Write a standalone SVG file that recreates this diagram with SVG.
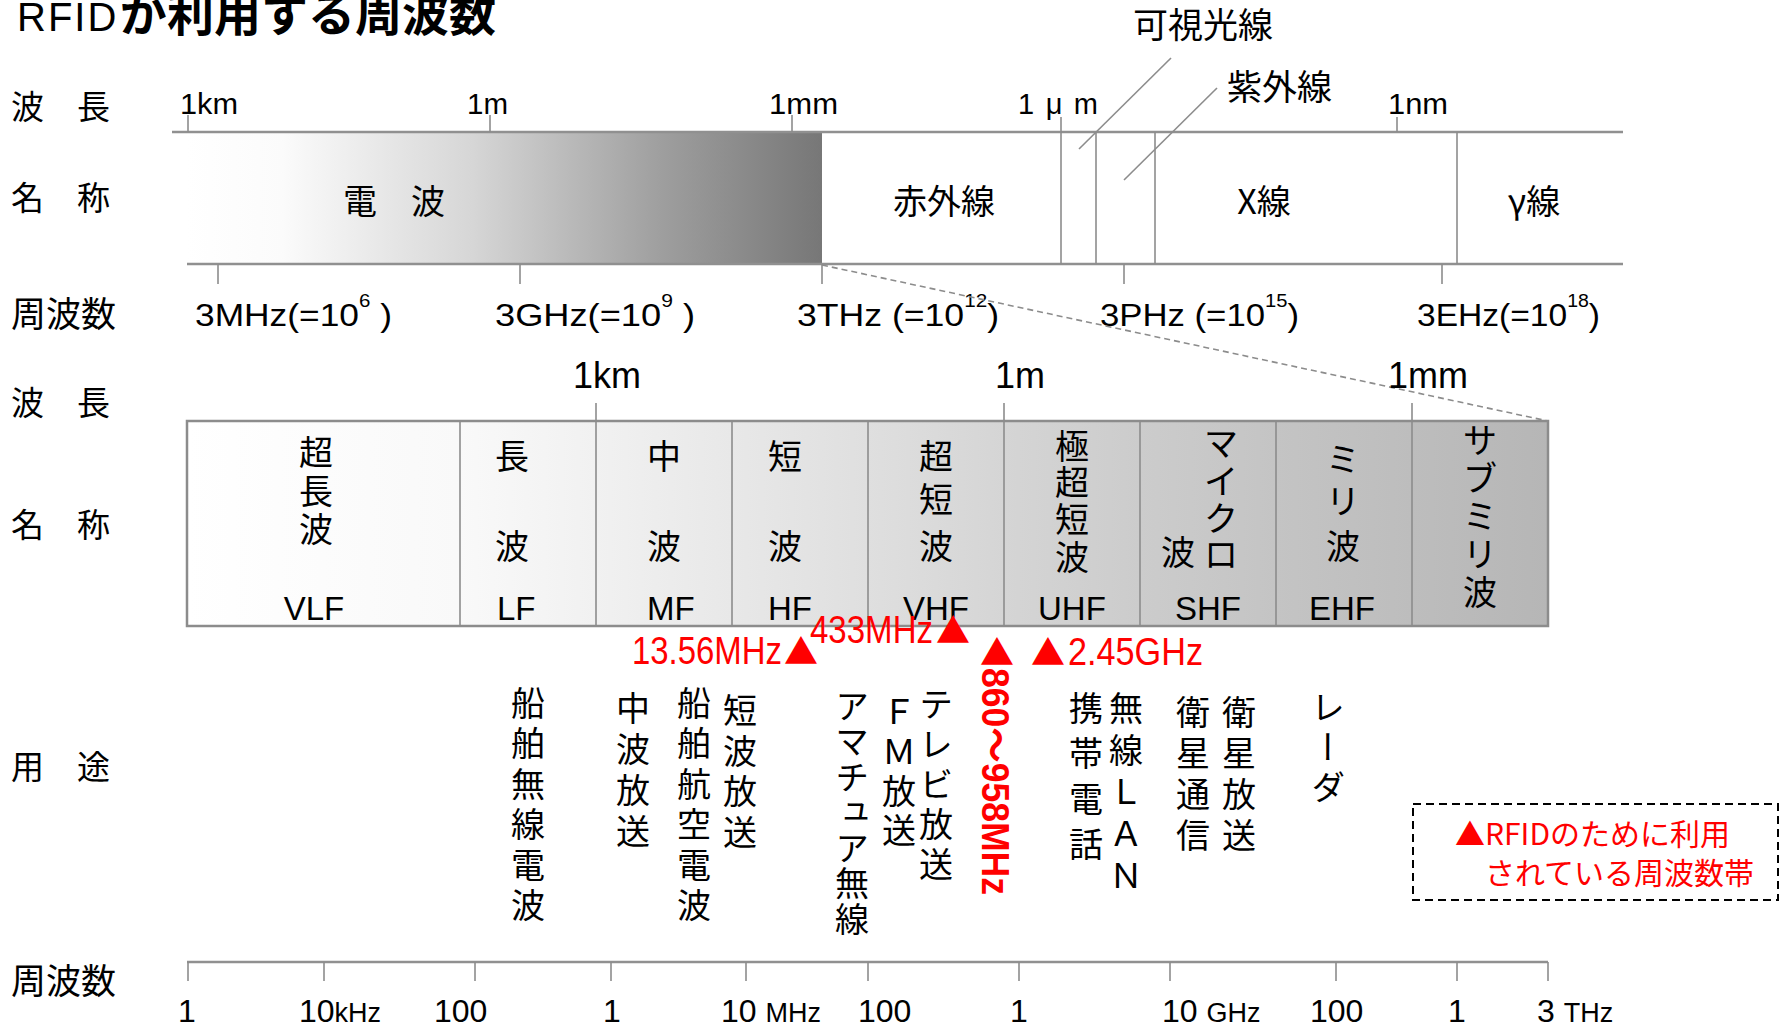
<svg xmlns="http://www.w3.org/2000/svg" width="1781" height="1028" viewBox="0 0 1781 1028">
<style>
.ja{font-family:"Noto Sans CJK JP",sans-serif;fill:#000}
.lat{font-family:"Liberation Sans","Noto Sans CJK JP",sans-serif;fill:#000}
.red{fill:#ff0000}
.vt{writing-mode:vertical-rl;font-family:"Noto Sans CJK JP",sans-serif;font-size:34px;fill:#000}
.ln{stroke:#909090;stroke-width:2.5;fill:none}
.tk{stroke:#8c8c8c;stroke-width:1.6;fill:none}
.cl{font-family:"Noto Sans CJK JP",sans-serif;font-size:34px;text-anchor:middle;fill:#000}
.bd{font-family:"Liberation Sans",sans-serif;font-size:33px;fill:#000}
.fq{font-family:"Liberation Sans","Noto Sans CJK JP",sans-serif;font-size:31px;fill:#000}
.ax{font-family:"Liberation Sans",sans-serif;font-size:32px;fill:#000}
</style>
<defs>
<linearGradient id="g1" x1="187" y1="0" x2="822" y2="0" gradientUnits="userSpaceOnUse">
<stop offset="0" stop-color="#ffffff"/><stop offset="0.15" stop-color="#fbfbfb"/><stop offset="0.45" stop-color="#d6d6d6"/><stop offset="0.75" stop-color="#9e9e9e"/><stop offset="1" stop-color="#777777"/>
</linearGradient>
<linearGradient id="g2" x1="187" y1="0" x2="1548" y2="0" gradientUnits="userSpaceOnUse">
<stop offset="0" stop-color="#ffffff"/><stop offset="0.2" stop-color="#f9f9f9"/><stop offset="0.3" stop-color="#f1f1f1"/><stop offset="0.4" stop-color="#e8e8e8"/><stop offset="0.5" stop-color="#dfdfdf"/><stop offset="0.6" stop-color="#d5d5d5"/><stop offset="0.7" stop-color="#cccccc"/><stop offset="0.8" stop-color="#c4c4c4"/><stop offset="0.9" stop-color="#bdbdbd"/><stop offset="1" stop-color="#b6b6b6"/>
</linearGradient>
</defs>
<rect width="1781" height="1028" fill="#ffffff"/>

<g id="title">
<text x="17" y="31" class="lat" font-size="40" letter-spacing="2">RFID<tspan class="ja" x="120" font-size="47" font-weight="bold" letter-spacing="0">が利用する周波数</tspan></text>
</g>

<g id="row-labels" class="ja">
<text x="11" y="119" font-size="33">波　長</text>
<text x="11" y="210" font-size="33">名　称</text>
<text x="11" y="327" font-size="35">周波数</text>
<text x="11" y="415" font-size="33">波　長</text>
<text x="11" y="537" font-size="33">名　称</text>
<text x="11" y="779" font-size="33">用　途</text>
<text x="11" y="994" font-size="35">周波数</text>
</g>

<g id="spectrum-bar">
<rect x="187" y="133" width="635" height="131" fill="url(#g1)"/>
<line class="ln" x1="172" y1="132" x2="1623" y2="132"/>
<line class="ln" x1="187" y1="264" x2="1623" y2="264"/>
<line class="tk" x1="1061" y1="117" x2="1061" y2="264"/>
<line class="tk" x1="1096" y1="132" x2="1096" y2="264"/>
<line class="tk" x1="1155" y1="132" x2="1155" y2="264"/>
<line class="tk" x1="1457" y1="132" x2="1457" y2="264"/>
<line class="tk" x1="188" y1="115" x2="188" y2="132"/>
<line class="tk" x1="490" y1="115" x2="490" y2="132"/>
<line class="tk" x1="792" y1="115" x2="792" y2="132"/>
<line class="tk" x1="1397" y1="117" x2="1397" y2="132"/>
<line class="tk" x1="218" y1="264" x2="218" y2="284"/>
<line class="tk" x1="520" y1="264" x2="520" y2="284"/>
<line class="tk" x1="822" y1="264" x2="822" y2="284"/>
<line class="tk" x1="1124" y1="264" x2="1124" y2="284"/>
<line class="tk" x1="1442" y1="264" x2="1442" y2="284"/>
</g>

<g id="top-wavelengths" class="lat" font-size="29">
<text x="180" y="114" textLength="58" lengthAdjust="spacingAndGlyphs">1km</text>
<text x="467" y="114" textLength="41" lengthAdjust="spacingAndGlyphs">1m</text>
<text x="769" y="114" textLength="69" lengthAdjust="spacingAndGlyphs">1mm</text>
<text x="1018" y="114" textLength="80">1μm</text>
<text x="1388" y="114" textLength="60" lengthAdjust="spacingAndGlyphs">1nm</text>
</g>

<g id="top-names" class="ja" font-size="34">
<text x="343" y="214">電　波</text>
<text x="944" y="214" text-anchor="middle">赤外線</text>
<text x="1264" y="214" text-anchor="middle">X線</text>
<text x="1534" y="214" text-anchor="middle">γ線</text>
</g>

<g id="visible-light">
<text x="1133" y="38" class="ja" font-size="35">可視光線</text>
</g>
<g id="ultraviolet">
<text x="1227" y="100" class="ja" font-size="35">紫外線</text>
</g>

<g id="top-frequencies" class="fq">
<text x="195" y="326" textLength="197" lengthAdjust="spacingAndGlyphs">3MHz(=10<tspan font-size="18" dy="-19">6</tspan><tspan dy="19"> )</tspan></text>
<text x="495" y="326" textLength="200" lengthAdjust="spacingAndGlyphs">3GHz(=10<tspan font-size="18" dy="-19">9</tspan><tspan dy="19"> )</tspan></text>
<text x="797" y="326" textLength="202" lengthAdjust="spacingAndGlyphs">3THz (=10<tspan font-size="18" dy="-19">12</tspan><tspan dy="19">)</tspan></text>
<text x="1100" y="326" textLength="199" lengthAdjust="spacingAndGlyphs">3PHz (=10<tspan font-size="18" dy="-19">15</tspan><tspan dy="19">)</tspan></text>
<text x="1417" y="326" textLength="183" lengthAdjust="spacingAndGlyphs">3EHz(=10<tspan font-size="18" dy="-19">18</tspan><tspan dy="19">)</tspan></text>
</g>

<g id="connectors">
<line stroke="#8c8c8c" stroke-width="1.6" x1="1171" y1="58" x2="1079" y2="149"/>
<line stroke="#8c8c8c" stroke-width="1.6" x1="1217" y1="88" x2="1124" y2="180"/>
<line stroke="#8c8c8c" stroke-width="1.6" stroke-dasharray="6 4" x1="822" y1="265" x2="1548" y2="421"/>
</g>

<g id="band-table">
<rect x="187" y="421" width="1361" height="205" fill="url(#g2)" stroke="#8c8c8c" stroke-width="2.5"/>
<line class="tk" x1="460" y1="421" x2="460" y2="626" stroke-width="2"/>
<line class="tk" x1="596" y1="403" x2="596" y2="626" stroke-width="2"/>
<line class="tk" x1="732" y1="421" x2="732" y2="626" stroke-width="2"/>
<line class="tk" x1="868" y1="421" x2="868" y2="626" stroke-width="2"/>
<line class="tk" x1="1004" y1="403" x2="1004" y2="626" stroke-width="2"/>
<line class="tk" x1="1140" y1="421" x2="1140" y2="626" stroke-width="2"/>
<line class="tk" x1="1276" y1="421" x2="1276" y2="626" stroke-width="2"/>
<line class="tk" x1="1412" y1="403" x2="1412" y2="626" stroke-width="2"/>
</g>

<g id="band-wavelengths" class="lat" font-size="36">
<text x="573" y="388">1km</text>
<text x="995" y="388">1m</text>
<text x="1388" y="388">1mm</text>
</g>

<g id="vlf"><text class="cl"><tspan x="316" y="465">超</tspan><tspan x="316" y="504">長</tspan><tspan x="316" y="542">波</tspan></text><text class="bd" x="314" y="620" text-anchor="middle">VLF</text></g>
<g id="lf"><text class="cl"><tspan x="512" y="469">長</tspan><tspan x="512" y="559">波</tspan></text><text class="bd" x="497" y="620">LF</text></g>
<g id="mf"><text class="cl"><tspan x="664" y="469">中</tspan><tspan x="664" y="559">波</tspan></text><text class="bd" x="647" y="620">MF</text></g>
<g id="hf"><text class="cl"><tspan x="785" y="469">短</tspan><tspan x="785" y="559">波</tspan></text><text class="bd" x="768" y="620">HF</text></g>
<g id="vhf"><text class="cl"><tspan x="936" y="469">超</tspan><tspan x="936" y="512">短</tspan><tspan x="936" y="559">波</tspan></text><text class="bd" x="903" y="620">VHF</text></g>
<g id="uhf"><text class="cl"><tspan x="1072" y="459">極</tspan><tspan x="1072" y="495">超</tspan><tspan x="1072" y="532">短</tspan><tspan x="1072" y="570">波</tspan></text><text class="bd" x="1038" y="620">UHF</text></g>
<g id="shf"><text class="cl"><tspan x="1221" y="456">マ</tspan><tspan x="1221" y="494">イ</tspan><tspan x="1221" y="531">ク</tspan><tspan x="1221" y="567">ロ</tspan><tspan x="1178" y="565">波</tspan></text><text class="bd" x="1175" y="620">SHF</text></g>
<g id="ehf"><text class="cl"><tspan x="1343" y="472">ミ</tspan><tspan x="1343" y="514">リ</tspan><tspan x="1343" y="559">波</tspan></text><text class="bd" x="1309" y="620">EHF</text></g>
<g id="submm"><text class="cl"><tspan x="1480" y="453">サ</tspan><tspan x="1480" y="491">ブ</tspan><tspan x="1480" y="529">ミ</tspan><tspan x="1480" y="567">リ</tspan><tspan x="1480" y="605">波</tspan></text></g>

<g id="rfid-13" class="red">
<text y="664"><tspan x="632" class="lat red" font-size="38" textLength="150" lengthAdjust="spacingAndGlyphs">13.56MHz</tspan><tspan x="784" class="ja red" font-size="34">▲</tspan></text>
</g>
<g id="rfid-433" class="red">
<text y="643"><tspan x="810" class="lat red" font-size="38" textLength="123" lengthAdjust="spacingAndGlyphs">433MHz</tspan><tspan x="936" class="ja red" font-size="34">▲</tspan></text>
</g>
<g id="rfid-uhf" class="red">
<text x="980" y="665" class="ja red" font-size="34">▲</text>
<text transform="translate(982,668) rotate(90)" class="lat red" font-size="38" font-weight="bold" textLength="227" lengthAdjust="spacingAndGlyphs">860～958MHz</text>
</g>
<g id="rfid-245" class="red">
<text y="665"><tspan x="1031" class="ja red" font-size="34">▲</tspan><tspan x="1068" class="lat red" font-size="38" textLength="135" lengthAdjust="spacingAndGlyphs">2.45GHz</tspan></text>
</g>

<g id="usages">
<text class="vt" x="528" y="686" letter-spacing="6.5">船舶無線電波</text>
<text class="vt" x="633" y="691" letter-spacing="7">中波放送</text>
<text class="vt" x="694" y="686" letter-spacing="6.5">船舶航空電波</text>
<text class="vt" x="740" y="693" letter-spacing="6.7">短波放送</text>
<text class="vt" x="852" y="689" letter-spacing="1.5">アマチュア無線</text>
<text class="vt" x="899" y="695" letter-spacing="5.5">ＦＭ放送</text>
<text class="vt" x="936" y="687" letter-spacing="6">テレビ放送</text>
<text class="vt" x="1086" y="691" letter-spacing="11.5">携帯電話</text>
<text class="vt" x="1126" y="691" letter-spacing="8">無線ＬＡＮ</text>
<text class="vt" x="1193" y="695" letter-spacing="7">衛星通信</text>
<text class="vt" x="1239" y="695" letter-spacing="7">衛星放送</text>
<text class="vt" x="1328" y="690" letter-spacing="6">レーダ</text>
</g>

<g id="legend">
<rect x="1413" y="804" width="365" height="96" fill="none" stroke="#000" stroke-width="2" stroke-dasharray="8 5"/>
<text class="ja red" font-size="30"><tspan x="1455" y="845">▲RFIDのために利用</tspan><tspan x="1485" y="884">されている周波数帯</tspan></text>
</g>

<g id="freq-axis">
<line class="ln" x1="187" y1="962" x2="1548" y2="962"/>
<line class="tk" x1="188" y1="962" x2="188" y2="981"/>
<line class="tk" x1="324" y1="962" x2="324" y2="981"/>
<line class="tk" x1="475" y1="962" x2="475" y2="981"/>
<line class="tk" x1="611" y1="962" x2="611" y2="981"/>
<line class="tk" x1="746" y1="962" x2="746" y2="981"/>
<line class="tk" x1="868" y1="962" x2="868" y2="981"/>
<line class="tk" x1="1019" y1="962" x2="1019" y2="981"/>
<line class="tk" x1="1170" y1="962" x2="1170" y2="981"/>
<line class="tk" x1="1336" y1="962" x2="1336" y2="981"/>
<line class="tk" x1="1457" y1="962" x2="1457" y2="981"/>
<line class="tk" x1="1548" y1="962" x2="1548" y2="981"/>
</g>
<g id="freq-axis-labels" class="ax">
<text x="178" y="1022">1</text>
<text x="299" y="1022">10<tspan font-size="27">kHz</tspan></text>
<text x="434" y="1022">100</text>
<text x="603" y="1022">1</text>
<text x="721" y="1022">10 <tspan font-size="27">MHz</tspan></text>
<text x="858" y="1022">100</text>
<text x="1010" y="1022">1</text>
<text x="1162" y="1022">10 <tspan font-size="27">GHz</tspan></text>
<text x="1310" y="1022">100</text>
<text x="1448" y="1022">1</text>
<text x="1537" y="1022">3 <tspan font-size="27">THz</tspan></text>
</g>
</svg>
